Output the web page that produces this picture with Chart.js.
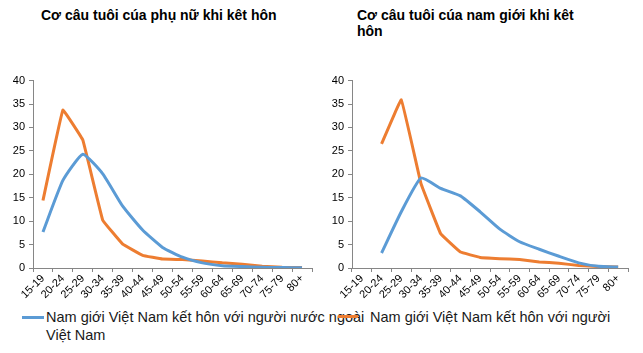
<!DOCTYPE html>
<html>
<head>
<meta charset="utf-8">
<script src="https://cdn.jsdelivr.net/npm/chart.js@4/dist/chart.umd.min.js"></script>
<style>
    body { margin: 0; background: #fff; width: 643px; height: 353px; overflow: hidden; position: relative; font-family: "Liberation Sans", Arial, sans-serif; }
    canvas { position: absolute; }
    .title { position: absolute; font-weight: bold; font-size: 14px; line-height: 16px; color: #000; }
    .legend-text { position: absolute; font-size: 14.5px; line-height: 17px; color: #1a1a1a; white-space: nowrap; }
    .legend-line { position: absolute; height: 3px; }
</style>
</head>
<body>
<div class="title" style="left:41px; top:7px;">Cơ câu tuôi cúa phụ nữ khi kêt hôn</div>
<div class="title" style="left:357px; top:7px; width:228px;">Cơ câu tuôi cúa nam giới khi kêt hôn</div>

<canvas id="womenChart" width="320" height="230" style="left:0; top:70px;"></canvas>
<canvas id="menChart" width="323" height="230" style="left:320px; top:70px;"></canvas>

<div class="legend-line" style="left:22px; top:316px; width:22px; background:#5B9BD5;"></div>
<div class="legend-text" style="left:46px; top:309px;">Nam giới Việt Nam kết hôn với người nước ngoài</div>
<div class="legend-line" style="left:338px; top:315px; width:20px; background:#ED7D31;"></div>
<div class="legend-text" style="left:370px; top:309px;">Nam giới Việt Nam kết hôn với người</div>
<div class="legend-text" style="left:46px; top:327px;">Việt Nam</div>

<script>
// age groups
const ageGroups = ['15-19', '20-24', '25-29', '30-34', '35-39', '40-44', '45-49',
    '50-54', '55-59', '60-64', '65-69', '70-74', '75-79', '80+'];

// women (left chart)
const womenForeign = [7.7, 18.7, 24.3, 20.1, 13.2, 8.1, 4.4, 2.3, 1.1, 0.5, 0.3, 0.15, 0.1, 0.05];
const womenLocal = [14.4, 33.7, 27.3, 10.2, 5.1, 2.7, 1.9, 1.8, 1.5, 1.1, 0.8, 0.4, 0.15, 0.1];

// men (right chart)
const menForeign = [null, 3.2, 12.0, 19.2, 17.0, 15.4, 12.0, 8.3, 5.6, 4.0, 2.5, 1.1, 0.35, 0.2];
const menLocal = [null, 26.5, 35.9, 18.0, 7.3, 3.4, 2.25, 2.0, 1.8, 1.3, 1.0, 0.55, 0.3, 0.2];

const yTicks = [0, 5, 10, 15, 20, 25, 30, 35, 40];

const BLUE = '#5B9BD5';
const ORANGE = '#ED7D31';
const AXIS = '#868686';
const FONT = { family: '"Liberation Sans", Arial, sans-serif', size: 11 };

function makeChart(id, foreign, local, yWidth, padRight) {
    const ctx = document.getElementById(id).getContext('2d');
    return new Chart(ctx, {
        type: 'line',
        data: {
            labels: ageGroups,
            datasets: [{
                data: foreign,
                borderColor: BLUE,
                borderWidth: 3,
                pointRadius: 0,
                tension: 0.15
            }, {
                data: local,
                borderColor: ORANGE,
                borderWidth: 3,
                pointRadius: 0,
                tension: 0.05
            }]
        },
        options: {
            responsive: false,
            animation: false,
            layout: { padding: { top: 9, right: padRight, left: 0, bottom: 0 } },
            plugins: {
                legend: { display: false },
                tooltip: { enabled: false }
            },
            scales: {
                x: {
                    offset: true,
                    grid: { display: true, drawOnChartArea: false, tickLength: 4, color: AXIS, offset: true },
                    border: { color: AXIS, width: 1 },
                    ticks: { autoSkip: false, minRotation: 45, maxRotation: 45, padding: 0, color: '#000', font: FONT },
                    afterFit: scale => { scale.height = 32; }
                },
                y: {
                    min: 0,
                    max: 40,
                    afterBuildTicks: scale => { scale.ticks = yTicks.map(v => ({ value: v })); },
                    grid: { display: true, drawOnChartArea: false, tickLength: 4, color: AXIS },
                    border: { color: AXIS, width: 1 },
                    ticks: { padding: 4, color: '#000', font: FONT },
                    afterFit: scale => { scale.width = yWidth; }
                }
            }
        }
    });
}

makeChart('womenChart', womenForeign, womenLocal, 33, 8);
makeChart('menChart', menForeign, menLocal, 32, 15);
</script>
</body>
</html>
